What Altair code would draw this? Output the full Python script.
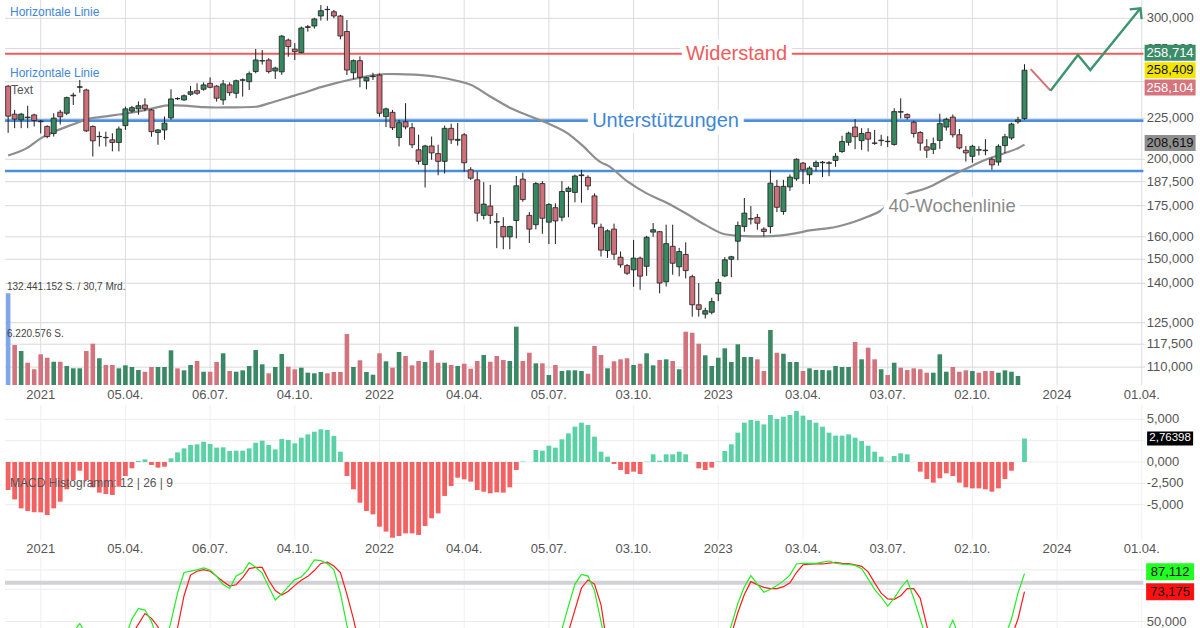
import altair as alt
import pandas as pd

FONT = "Liberation Sans"
W, H = 1200, 628

# ---------------- data ----------------
# week index: 0 = week of 04.01.2021; weekly candles from w=-5 to w=151
weeks = list(range(-5, 152))

opens = [
    246.8, 227.7, 224.0, 225.8, 227.2, 223.2, 219.8, 215.4, 229.0, 228.3,
    240.0, 246.0, 244.1, 219.8, 213.4, 213.0, 211.5, 209.9, 220.3, 229.8,
    231.2, 233.8, 230.5, 216.0, 217.6, 225.3, 238.2, 237.2, 241.1, 243.6,
    244.6, 248.8, 246.8, 237.2, 247.7, 241.8, 251.0, 250.0, 257.4, 265.3,
    266.1, 257.8, 257.2, 281.8, 274.5, 271.9, 292.2, 293.4, 302.0, 307.8,
    305.7, 302.0, 288.8, 256.5, 265.6, 250.5, 253.6, 254.8, 226.1, 228.9,
    212.9, 222.8, 219.0, 205.5, 197.0, 207.8, 203.3, 198.8, 218.6, 211.2,
    214.6, 194.0, 188.5, 170.2, 174.8, 167.2, 164.8, 160.0, 167.7, 188.9,
    170.2, 165.7, 186.5, 166.9, 174.0, 169.3, 182.3, 181.8, 190.8, 189.9,
    180.0, 164.5, 153.8, 163.6, 150.9, 147.3, 145.5, 150.5, 147.0, 162.2,
    162.4, 140.6, 155.7, 146.8, 152.1, 142.7, 131.6, 128.1, 128.8, 135.8,
    143.0, 150.0, 158.0, 164.8, 168.4, 169.2, 163.6, 164.8, 185.0, 172.1,
    184.7, 189.1, 197.8, 191.3, 195.9, 198.0, 197.7, 199.3, 204.5, 210.0,
    219.4, 211.0, 216.0, 209.6, 211.0, 210.6, 208.7, 229.4, 227.5, 222.5,
    216.0, 207.3, 205.8, 211.1, 219.4, 225.8, 214.6, 205.2, 201.7, 205.6,
    205.3, 200.0, 198.4, 208.0, 212.6, 222.8, 224.8,
]
highs = [
    247.5, 230.5, 228.5, 233.3, 228.0, 224.0, 220.5, 228.3, 230.5, 239.5,
    242.2, 251.2, 245.0, 220.5, 216.6, 216.5, 215.5, 219.8, 232.7, 233.2,
    236.2, 238.3, 231.2, 218.2, 226.2, 244.6, 239.0, 241.0, 247.0, 248.9,
    249.5, 253.1, 247.5, 251.2, 249.5, 251.5, 252.4, 257.4, 274.6, 273.8,
    267.5, 261.0, 285.8, 283.0, 279.3, 293.0, 294.3, 300.4, 311.6, 310.7,
    307.2, 303.0, 298.5, 266.5, 268.9, 253.6, 256.5, 256.0, 232.0, 230.5,
    224.0, 235.0, 222.0, 214.6, 208.5, 213.5, 208.5, 220.3, 221.5, 222.0,
    215.6, 195.5, 193.0, 187.2, 185.8, 171.3, 169.3, 165.2, 190.6, 192.5,
    171.9, 187.3, 187.8, 176.3, 176.2, 187.8, 185.0, 191.4, 194.0, 191.0,
    181.3, 166.2, 163.5, 166.2, 153.4, 148.0, 158.6, 151.2, 160.5, 166.5,
    162.7, 165.7, 165.7, 155.0, 157.5, 143.5, 140.1, 130.5, 134.3, 141.7,
    150.9, 151.5, 167.2, 178.9, 174.8, 170.9, 164.5, 193.8, 188.5, 188.5,
    191.5, 200.5, 198.4, 196.0, 199.3, 199.0, 199.0, 203.6, 214.0, 216.5,
    224.5, 218.7, 218.7, 217.6, 214.6, 213.7, 231.6, 238.3, 228.3, 223.5,
    216.8, 211.9, 212.9, 228.0, 225.4, 227.5, 218.2, 207.8, 208.5, 207.7,
    211.9, 201.0, 208.8, 215.2, 222.2, 226.0, 262.9,
]
lows = [
    215.8, 218.7, 218.7, 218.7, 219.8, 215.4, 212.5, 213.5, 221.0, 227.0,
    233.8, 242.2, 216.3, 201.6, 207.5, 207.5, 204.6, 204.6, 217.6, 228.6,
    227.3, 229.6, 213.4, 208.5, 211.5, 224.0, 237.2, 236.6, 240.0, 240.7,
    243.6, 245.3, 236.1, 233.9, 240.0, 238.4, 239.5, 244.1, 256.1, 262.6,
    256.0, 252.0, 255.0, 268.6, 266.1, 271.3, 288.7, 291.2, 298.0, 298.0,
    300.0, 282.4, 254.8, 251.7, 246.0, 244.6, 251.2, 226.1, 219.4, 217.6,
    207.5, 218.0, 206.5, 197.0, 184.4, 199.7, 191.0, 192.0, 209.0, 208.0,
    193.0, 188.5, 167.2, 168.2, 166.0, 154.9, 154.4, 154.4, 159.3, 177.0,
    157.2, 163.5, 161.4, 156.7, 156.7, 167.3, 169.3, 176.7, 176.5, 183.0,
    164.3, 151.2, 150.6, 149.8, 146.4, 143.4, 138.6, 137.4, 143.0, 160.0,
    136.0, 138.7, 143.5, 142.8, 142.0, 127.2, 127.2, 126.5, 128.0, 133.0,
    142.5, 142.5, 149.6, 162.4, 165.8, 163.3, 160.2, 161.6, 171.8, 170.5,
    182.6, 188.0, 186.3, 186.3, 193.3, 190.0, 190.5, 195.7, 203.6, 208.0,
    205.9, 205.5, 204.5, 208.5, 207.8, 207.2, 208.0, 224.9, 224.2, 212.9,
    205.0, 200.8, 203.0, 206.1, 217.2, 212.9, 205.8, 198.7, 198.0, 202.2,
    202.3, 194.0, 196.4, 203.6, 211.4, 221.5, 224.0,
]
closes = [
    226.4, 224.5, 227.7, 225.4, 223.6, 222.8, 213.5, 225.1, 226.0, 238.8,
    240.5, 246.4, 217.0, 210.9, 213.6, 212.8, 209.9, 218.2, 231.2, 232.0,
    233.3, 231.3, 216.5, 217.6, 221.9, 237.9, 238.0, 240.1, 242.9, 241.8,
    247.7, 246.0, 238.4, 248.4, 242.2, 250.7, 251.4, 255.8, 266.1, 265.6,
    257.4, 260.0, 285.0, 276.5, 272.6, 291.7, 292.8, 299.4, 306.6, 307.6,
    302.0, 285.1, 258.5, 265.6, 253.2, 252.9, 254.0, 228.3, 231.2, 219.0,
    222.2, 219.5, 208.5, 198.8, 207.8, 203.7, 198.8, 218.6, 211.5, 211.8,
    198.0, 189.4, 171.3, 175.8, 170.2, 166.9, 160.0, 164.8, 185.3, 178.1,
    163.6, 186.5, 168.8, 175.6, 167.5, 182.3, 184.0, 190.6, 191.2, 185.2,
    166.1, 154.0, 162.8, 152.2, 147.6, 144.1, 150.5, 142.9, 159.8, 163.3,
    140.1, 156.9, 148.3, 153.4, 145.2, 131.6, 129.9, 129.4, 132.8, 140.4,
    149.8, 151.1, 165.3, 171.3, 168.6, 166.4, 162.5, 186.7, 174.2, 185.0,
    190.0, 200.0, 194.0, 195.0, 198.2, 198.3, 198.0, 201.7, 210.5, 215.6,
    213.4, 215.4, 211.9, 209.4, 211.3, 210.4, 229.4, 229.0, 225.4, 215.4,
    209.5, 205.3, 209.2, 221.6, 224.4, 214.6, 206.6, 203.7, 207.6, 205.3,
    205.0, 196.8, 207.6, 213.4, 221.3, 224.0, 258.409,
]
# weekly volume (millions of shares)
volumes = [
    132.4, 57.8, 49.1, 32.2, 22.7, 44.3, 39.4, 33.6, 33.6, 27.4,
    24.1, 24.1, 49.1, 59.6, 38.6, 28.9, 28.9, 24.1, 28.4, 26.0,
    21.7, 19.2, 26.0, 26.0, 26.0, 50.1, 24.1, 21.2, 28.9, 34.7,
    19.2, 19.2, 33.2, 45.8, 20.2, 19.2, 21.2, 27.4, 50.5, 29.9,
    16.9, 26.0, 44.8, 26.4, 22.7, 25.0, 17.8, 16.9, 18.8, 16.9,
    18.8, 18.8, 73.6, 26.0, 35.7, 18.8, 14.9, 45.8, 34.2, 25.0,
    47.7, 41.9, 28.4, 34.7, 33.2, 50.1, 32.2, 32.2, 28.9, 27.4,
    30.8, 23.5, 34.7, 43.3, 33.6, 41.9, 36.1, 34.7, 84.2, 34.7,
    46.6, 31.3, 31.3, 14.4, 28.9, 20.2, 21.2, 21.2, 20.2, 16.3,
    56.3, 43.3, 24.1, 34.2, 37.1, 38.6, 28.9, 30.8, 45.8, 28.4,
    36.1, 37.1, 34.7, 22.7, 77.0, 75.5, 59.6, 42.9, 27.4, 39.4,
    53.0, 33.2, 58.8, 40.4, 40.4, 37.1, 20.2, 79.4, 46.6, 45.2,
    33.2, 33.2, 20.2, 24.1, 21.7, 21.7, 21.2, 27.4, 26.0, 26.0,
    62.1, 37.1, 53.9, 37.1, 22.7, 14.4, 32.2, 25.0, 21.7, 24.1,
    22.7, 17.8, 17.8, 44.3, 19.2, 26.0, 19.2, 21.2, 20.2, 17.8,
    20.2, 20.2, 17.8, 21.2, 19.2, 13.0, None,
]
macd_hist = [
    -3.28, -4.38, -5.43, -5.74, -5.9, -5.9, -6.21, -5.43, -4.65, -3.2,
    -2.11, -1.02, -2.11, -2.97, -3.59, -3.75, -3.87, -2.89, -1.64, -0.74,
    0.12, 0.31, -0.35, -0.66, -0.55, 0.43, 1.13, 1.6, 1.99, 2.07,
    2.38, 2.11, 1.68, 1.72, 1.29, 1.33, 1.33, 1.6, 2.27, 2.5,
    1.99, 1.48, 2.7, 2.58, 2.19, 2.85, 3.24, 3.55, 3.83, 3.75,
    3.05, 1.21, -1.64, -3.2, -4.77, -5.74, -6.13, -7.58, -8.16, -8.87,
    -8.67, -8.36, -8.36, -8.55, -7.5, -6.6, -6.02, -3.98, -2.81, -1.84,
    -2.03, -2.3, -3.28, -3.48, -3.67, -3.55, -3.59, -2.97, -0.94, 0.05,
    0.0, 1.41, 1.33, 1.91, 1.68, 2.66, 3.36, 4.14, 4.61, 4.34,
    2.97, 1.21, 0.63, -0.23, -0.94, -1.41, -1.13, -1.41, 0.04, 0.9,
    0.16, 0.9, 0.9, 1.21, 0.9, 0.0, -0.74, -0.94, -0.66, 0.04,
    1.29, 2.07, 3.44, 4.61, 4.92, 4.84, 4.41, 5.51, 5.04, 5.31,
    5.51, 5.98, 5.43, 4.92, 4.61, 4.14, 3.44, 3.09, 3.09, 3.24,
    2.85, 2.46, 1.91, 1.21, 0.63, 0.04, 0.7, 1.02, 0.9, 0.0,
    -1.13, -1.99, -2.42, -1.91, -1.33, -1.64, -2.42, -2.97, -3.09, -3.09,
    -3.2, -3.48, -3.09, -1.99, -1.02, 0.0, 2.76398,
]
# 40-week moving average
ma_weeks = [-5, -2, 0, 2, 5, 7, 10, 12, 15, 17, 20, 22, 25, 27, 30, 33, 35, 38, 40, 43,
            45, 48, 50, 53, 55, 58, 61, 64, 66, 69, 72, 75, 78, 81, 83, 86, 87, 90, 93, 96,
            99, 102, 105, 108, 111, 116, 118, 121, 122, 125, 127, 129, 131, 133, 136, 139, 141, 143, 145, 148,
            150, 151]
ma_values = [202.2, 206.8, 212.4, 216.4, 221.2, 224.3, 226.3, 227.5, 229.5, 231.4,
             233.7, 233.3, 232.3, 232.1, 232.2, 232.6, 234.9, 238.9, 241.6, 246.1,
             248.6, 251.9, 253.8, 255.6, 255.5, 254.9, 253.4, 250.5, 247.8, 239.6,
             232.0, 226.5, 221.5, 215.2, 208.6, 198.2, 196.5, 187.8, 181.3, 176.6,
             171.2, 165.6, 161.2, 160.3, 160.2, 161.7, 163.0, 164.1, 164.6, 167.2,
             169.6, 172.6, 178.0, 181.0, 184.1, 189.4, 193.0, 196.3, 199.7, 203.6,
             206.5, 208.619]
# stochastic %K / %D (only the stretches that reach into the visible band)
stoch_k = [
    [(4, 30), (5, 42), (6, 48.5), (7, 40), (8, 30)],
    [(12, 25), (13, 38), (14, 52), (15, 60.2), (16, 58.9), (17, 50), (18, 35)],
    [(19, 30), (20, 50), (21, 72), (22, 88), (23, 89), (24, 90), (25, 91.5), (26, 90), (27, 85),
     (28, 78.6), (29, 75.6), (30, 85.3), (31, 88), (32, 95.6), (33, 92), (34, 87.5), (35, 77),
     (36, 66.7), (37, 71.5), (38, 77), (39, 82.5), (40, 84.5), (41, 90), (42, 97.7), (43, 97.2),
     (44, 95), (45, 90), (46, 72), (47, 47), (48, 25)],
    [(79, 25), (80, 44), (81, 62), (82, 79), (83, 86.5), (84, 85.2), (85, 74), (86, 50), (87, 25)],
    [(104, 25), (105, 35), (106, 47), (107, 64), (108, 77), (109, 85.6), (110, 79), (111, 72.7),
     (112, 75), (113, 78), (114, 81.5), (115, 86), (116, 94.6), (117, 95), (118, 95), (119, 95.1),
     (120, 96), (121, 96.9), (122, 95.2), (123, 94.5), (124, 94.3), (125, 93.5), (126, 91),
     (127, 83), (128, 75), (129, 69), (130, 62), (131, 68), (132, 76), (133, 82), (134, 68),
     (135, 52), (136, 35)],
    [(139, 40), (140, 51), (141, 38)],
    [(147, 25), (148, 38), (149, 52), (150, 72), (151, 87.112)],
]
stoch_d = [
    [(14, 40), (15, 48), (16, 56.2), (17, 52.5), (18, 46), (19, 32)],
    [(20, 28), (21, 45), (22, 70), (23, 86), (24, 89), (25, 90.2), (26, 89), (27, 85), (28, 81),
     (29, 77.5), (30, 78.5), (31, 84), (32, 91), (33, 92), (34, 91.9), (35, 82), (36, 74),
     (37, 70.6), (38, 73.5), (39, 78), (40, 82), (41, 85), (42, 89.5), (43, 95), (44, 96),
     (45, 93), (46, 88), (47, 71), (48, 52), (49, 30)],
    [(80, 25), (81, 42), (82, 59), (83, 76), (84, 82.2), (85, 79), (86, 63), (87, 30)],
    [(105, 20), (106, 40), (107, 57), (108, 71), (109, 80.9), (110, 78.5), (111, 76.5),
     (112, 75.5), (113, 75.5), (114, 77), (115, 80), (116, 88), (117, 94), (118, 94.5),
     (119, 94.6), (120, 94.6), (121, 95.3), (122, 95.8), (123, 95.1), (124, 94.8), (125, 94),
     (126, 92.8), (127, 88.5), (128, 80), (129, 72), (130, 67.5), (131, 67.2), (132, 70),
     (133, 75.5), (134, 75.5), (135, 68), (136, 47), (137, 30)],
    [(148, 25), (149, 38), (150, 52), (151, 73.175)],
]
resistance_level = 270.9
support_levels = [223.5, 193.4]
forecast_down_w = [151.95, 155.0]
forecast_down_p = [259.2, 243.6]
forecast_up_w = [155.0, 159.2, 161.1, 168.8]
forecast_up_p = [243.6, 269.9, 258.5, 308.8]

xtick_weeks = [0, 13, 26, 39, 52, 65, 78, 91, 104, 117, 130, 143, 156, 169]
xtick_labels = ["2021", "05.04.", "06.07.", "04.10.", "2022", "04.04.", "05.07.",
                "03.10.", "2023", "03.04.", "03.07.", "02.10.", "2024", "01.04."]
price_ticks = [110, 117.5, 125, 140, 150, 160, 175, 187.5, 200, 225, 250, 275, 300]
price_hidden_labels = [250]          # covered by the quote boxes in the original
macd_ticks = [5, 2.5, 0, -2.5, -5]
macd_hidden_labels = [2.5]           # covered by the value box in the original
stoch_grid = [90, 75, 50]
stoch_label_ticks = [50]
last_quotes = [258.714, 258.409, 258.104]
ma_last = 208.619
macd_last = 2.76398
stoch_last = [87.112, 73.175]
volume_notes = ["132.441.152 S. / 30,7 Mrd.", "6.220.576 S."]
volume_note_levels = [141.0, 73.7]

# ---------------- layout ----------------
MAIN_BOTTOM = 385
MACD_TOP, MACD_BOTTOM = 405, 540
STO_TOP = 557
X_MIN, X_MAX = -5.48, 177.17
PLOT_END = 169.25
LABEL_COL = 169.75
BOX_COL = 173.35

GREEN = "#37875f"
RED = "#d0707a"
AXIS_TXT = "#555555"

xs = alt.Scale(domain=[X_MIN, X_MAX], nice=False, zero=False)
ps = alt.Scale(type="log", domain=[104.49, 316.2], range=[MAIN_BOTTOM, 0], nice=False, zero=False)
vs = alt.Scale(domain=[0, 556], range=[MAIN_BOTTOM, 0], nice=False, zero=False)
ms = alt.Scale(domain=[-9.14, 6.68], range=[MACD_BOTTOM, MACD_TOP], nice=False, zero=False)
ss = alt.Scale(domain=[45, 100], range=[H, STO_TOP], nice=False, zero=False)


def xq(f):
    return alt.X(f"{f}:Q", scale=xs, axis=None)


def yq(f, sc):
    return alt.Y(f"{f}:Q", scale=sc, axis=None)


def de(v):
    return f"{v:,.3f}".replace(",", "X").replace(".", ",").replace("X", ".")


def consts(ch, **kw):
    return ch.transform_calculate(**{k: str(v) for k, v in kw.items()})


candles = pd.DataFrame({"week": weeks, "open": opens, "high": highs, "low": lows,
                        "close": closes, "volume": volumes, "macd": macd_hist})
ma_df = pd.DataFrame({"week": ma_weeks, "ma": ma_values})
xt_df = pd.DataFrame({"w": xtick_weeks, "label": xtick_labels})
pt_df = pd.DataFrame({"p": price_ticks, "label": [de(v) for v in price_ticks]})
ptl_df = pt_df[~pt_df["p"].isin(price_hidden_labels)]
mt_df = pd.DataFrame({"m": macd_ticks, "label": [de(v) for v in macd_ticks]})
mtl_df = mt_df[~mt_df["m"].isin(macd_hidden_labels)]
sg_df = pd.DataFrame({"s": stoch_grid})
sl_df = pd.DataFrame({"s": stoch_label_ticks, "label": [de(v) for v in stoch_label_ticks]})


def seg_df(segs):
    rows = []
    for i, s in enumerate(segs):
        for w, v in s:
            rows.append({"seg": i, "w": w, "v": v})
    return pd.DataFrame(rows)


def hrule(df, field, sc, color, width, end=PLOT_END + 0.3):
    return consts(alt.Chart(df), x0=X_MIN, x1=end).mark_rule(color=color, strokeWidth=width).encode(
        x=xq("x0"), x2="x1:Q", y=yq(field, sc))


# ---- group 1: price grid (price scale) ----
grid_price = [
    alt.Chart(xt_df).mark_rule(color="#dcdce1", strokeWidth=1).encode(
        x=xq("w"), y=alt.value(0), y2=alt.value(MAIN_BOTTOM)),
    hrule(pt_df, "p", ps, "#d9d9de", 1),
    alt.Chart(xt_df).mark_text(fontSize=13, font=FONT, color=AXIS_TXT, baseline="middle").encode(
        x=xq("w"), y=alt.value(395), text="label:N"),
    consts(alt.Chart(ptl_df), xl=LABEL_COL).mark_text(align="left", baseline="middle", fontSize=13,
                                                       font=FONT, color=AXIS_TXT).encode(
        x=xq("xl"), y=yq("p", ps), text="label:N"),
]

# ---- group 2: volume ----
vol_base = consts(alt.Chart(candles).transform_filter("isValid(datum.volume)"), zero=0)
vn_df = pd.DataFrame({"t": volume_notes, "v": volume_note_levels})
vol_layers = [
    vol_base.transform_filter("datum.week > -5").mark_bar(size=4.6).encode(
        x=xq("week"), y=yq("volume", vs), y2="zero:Q",
        fill=alt.condition("datum.close >= datum.open", alt.value("#3a8866"), alt.value("#d3737d"))),
    vol_base.transform_filter("datum.week == -5").mark_bar(size=4.6, color="#7ea6e8").encode(
        x=xq("week"), y=yq("volume", vs), y2="zero:Q"),
    consts(alt.Chart(vn_df), x0=X_MIN).mark_text(align="left", baseline="middle", dx=2, fontSize=10,
                                                 font=FONT, color="#444").encode(
        x=xq("x0"), y=yq("v", vs), text="t:N"),
]


# ---- group 3: price content ----
def halo_text(txt, w, p, color, size, halo):
    d = pd.DataFrame({"w": [w], "p": [p], "t": [txt]})
    h = alt.Chart(d).mark_text(fontSize=size, font=FONT, color="white", stroke="white",
                               strokeWidth=halo, baseline="middle").encode(
        x=xq("w"), y=yq("p", ps), text="t:N")
    t = alt.Chart(d).mark_text(fontSize=size, font=FONT, color=color, baseline="middle").encode(
        x=xq("w"), y=yq("p", ps), text="t:N")
    return [h, t]


notes_df = pd.DataFrame({"t": ["Horizontale Linie", "Horizontale Linie", "Text"],
                         "p": [305.5, 256.1, 244.1]})
price_layers = [
    hrule(pd.DataFrame({"p": [resistance_level]}), "p", ps, "#f05b5b", 2, PLOT_END),
    hrule(pd.DataFrame({"p": support_levels}), "p", ps, "#4a8fdc", 2.6, PLOT_END),
    alt.Chart(ma_df).mark_line(color="#8e8e8e", strokeWidth=2.2, interpolate="monotone").encode(
        x=xq("week"), y=yq("ma", ps)),
    alt.Chart(candles).mark_rule(color="#1e1e1e", strokeWidth=1).encode(
        x=xq("week"), y=yq("low", ps), y2="high:Q"),
    alt.Chart(candles).mark_bar(size=5, stroke="#1e1e1e", strokeWidth=0.8).encode(
        x=xq("week"), y=yq("open", ps), y2="close:Q",
        fill=alt.condition("datum.close >= datum.open", alt.value(GREEN), alt.value(RED))),
]
price_layers += halo_text("Widerstand", 106.8, resistance_level, "#f05b5b", 20, 12)
price_layers += halo_text("Unterstützungen", 95.9, support_levels[0], "#3f87d8", 20, 12)
price_layers += halo_text("40-Wochenlinie", 139.9, 175.0, "#8a8a8a", 18.5, 10)
price_layers += [
    consts(alt.Chart(notes_df).transform_filter("datum.t != 'Text'"), x0=X_MIN).mark_text(
        align="left", baseline="middle", dx=5, fontSize=12, font=FONT, color="#3f87d8").encode(
        x=xq("x0"), y=yq("p", ps), text="t:N"),
    consts(alt.Chart(notes_df).transform_filter("datum.t == 'Text'"), x0=X_MIN).mark_text(
        align="left", baseline="middle", dx=6, fontSize=12, font=FONT, color="#555").encode(
        x=xq("x0"), y=yq("p", ps), text="t:N"),
    alt.Chart(pd.DataFrame({"w": forecast_down_w, "p": forecast_down_p})).mark_line(
        color="#d86d76", strokeWidth=2).encode(x=xq("w"), y=yq("p", ps)),
    alt.Chart(pd.DataFrame({"w": forecast_up_w, "p": forecast_up_p})).mark_line(
        color="#3d9470", strokeWidth=2.4).encode(x=xq("w"), y=yq("p", ps)),
    alt.Chart(pd.DataFrame({"w": forecast_up_w[-1:], "p": forecast_up_p[-1:]})).mark_point(
        shape="M-0.7,0.7L0,0L0.7,0.7", size=480, angle=39, filled=False, color="#3d9470",
        strokeWidth=2.4, opacity=1).encode(x=xq("w"), y=yq("p", ps)),
]

# ---- group 4: MACD ----
macd_layers = [
    alt.Chart(xt_df).mark_rule(color="#f0f0f3", strokeWidth=1).encode(
        x=xq("w"), y=alt.value(MACD_TOP), y2=alt.value(MACD_BOTTOM)),
    hrule(mt_df, "m", ms, "#ececef", 1),
    consts(alt.Chart(candles), zero=0).mark_bar(size=4.8).encode(
        x=xq("week"), y=yq("macd", ms), y2="zero:Q",
        fill=alt.condition("datum.macd >= 0", alt.value("#5ad2a5"), alt.value("#f26262"))),
    consts(alt.Chart(pd.DataFrame({"m": [-2.5], "t": ["MACD Histogramm: 12 | 26 | 9"]})), x0=X_MIN).mark_text(
        align="left", baseline="middle", dx=5, fontSize=12, font=FONT, color="#555").encode(
        x=xq("x0"), y=yq("m", ms), text="t:N"),
    alt.Chart(xt_df).mark_text(fontSize=13, font=FONT, color=AXIS_TXT, baseline="middle").encode(
        x=xq("w"), y=alt.value(549), text="label:N"),
    consts(alt.Chart(mtl_df), xl=LABEL_COL).mark_text(align="left", baseline="middle", fontSize=13,
                                                       font=FONT, color=AXIS_TXT).encode(
        x=xq("xl"), y=yq("m", ms), text="label:N"),
]

# ---- group 5: stochastic ----
sto_layers = [
    alt.Chart(xt_df).mark_rule(color="#f0f0f3", strokeWidth=1).encode(
        x=xq("w"), y=alt.value(STO_TOP), y2=alt.value(H)),
    hrule(sg_df, "s", ss, "#ececef", 1),
    hrule(pd.DataFrame({"s": [80]}), "s", ss, "#d2d2d6", 4, PLOT_END),
    alt.Chart(seg_df(stoch_d)).mark_line(color="#ff1a1a", strokeWidth=1.2, clip=True).encode(
        x=xq("w"), y=yq("v", ss), detail="seg:N"),
    alt.Chart(seg_df(stoch_k)).mark_line(color="#22ee22", strokeWidth=1.2, clip=True).encode(
        x=xq("w"), y=yq("v", ss), detail="seg:N"),
    consts(alt.Chart(sl_df), xl=LABEL_COL).mark_text(align="left", baseline="middle", fontSize=13,
                                                      font=FONT, color=AXIS_TXT).encode(
        x=xq("xl"), y=yq("s", ss), text="label:N"),
]


# ---- value boxes on the right axis ----
def box(value, sc, fill, tcolor, yoff, bw, bh, fsize, label=None):
    d = pd.DataFrame({"v": [value], "t": [label or de(value).replace(".", "")]})
    r = bh / bw
    shape = f"M-1,-{r:.4f}L1,-{r:.4f}L1,{r:.4f}L-1,{r:.4f}Z"
    b = consts(alt.Chart(d), xb=BOX_COL).mark_point(
        shape=shape, size=bw * bw, filled=True, color=fill, opacity=1,
        strokeWidth=0, yOffset=yoff).encode(x=xq("xb"), y=yq("v", sc))
    t = consts(alt.Chart(d), xb=BOX_COL).mark_text(
        fontSize=fsize, font=FONT, color=tcolor, baseline="middle", dy=yoff).encode(
        x=xq("xb"), y=yq("v", sc), text="t:N")
    return [b, t]


price_boxes = []
price_boxes += box(last_quotes[0], ps, "#3b8c68", "white", -17, 51, 16, 13)
price_boxes += box(last_quotes[1], ps, "#f3e500", "#111", 0, 51, 16, 13)
price_boxes += box(last_quotes[2], ps, "#d6737c", "white", 17, 51, 16, 13)
price_boxes += box(ma_last, ps, "#8e8e8e", "#111", -1.5, 51, 16, 13)
macd_boxes = box(macd_last, ms, "#000000", "white", 0, 46, 14, 11.5, label="2,76398")
sto_boxes = []
sto_boxes += box(stoch_last[0], ss, "#22ff22", "#111", -2, 48, 17, 13)
sto_boxes += box(stoch_last[1], ss, "#ff1010", "#111", 0, 48, 17, 13)

chart = alt.layer(
    alt.layer(*grid_price),
    alt.layer(*vol_layers),
    alt.layer(*price_layers),
    alt.layer(*macd_layers),
    alt.layer(*sto_layers),
    alt.layer(*price_boxes),
    alt.layer(*macd_boxes),
    alt.layer(*sto_boxes),
).resolve_scale(y="independent").properties(
    width=W, height=H, padding=0, autosize="none", background="white"
).configure_view(stroke=None)

chart.save("out.html", embed_options={"renderer": "svg", "actions": False})
